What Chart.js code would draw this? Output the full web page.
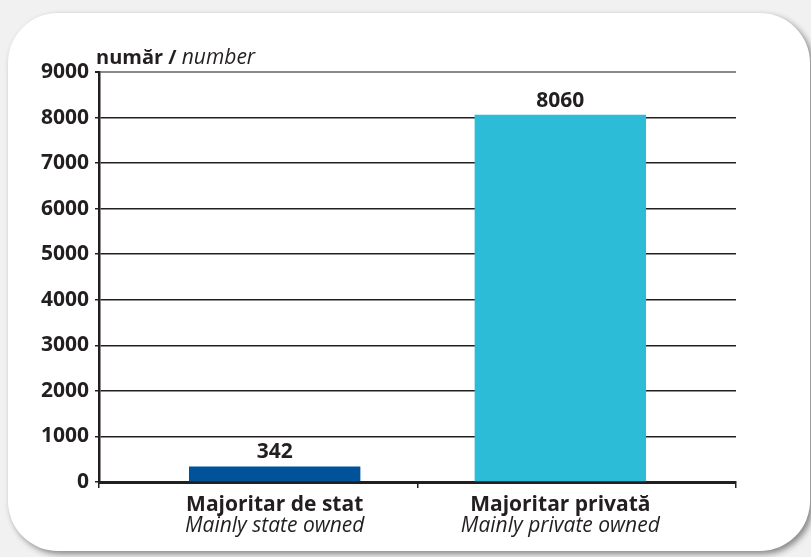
<!DOCTYPE html>
<html>
<head>
<meta charset="utf-8">
<script src="https://cdn.jsdelivr.net/npm/chart.js@4.4.1/dist/chart.umd.min.js"></script>
<style>
  html, body { margin: 0; padding: 0; }
  body { width: 811px; height: 557px; background: #f1f1f1; position: relative; overflow: hidden; }
  #card {
    position: absolute; left: 8px; top: 13px; width: 802px; height: 538px;
    background: #fff; border-radius: 50px;
    box-shadow: 3px 3px 6px rgba(0, 0, 0, 0.45);
  }
  #chart { position: absolute; left: 0; top: 0; }
</style>
</head>
<body>
<div id="card"></div>
<canvas id="chart" width="811" height="557"></canvas>
<script>
// categories (bold Romanian / italic English)
const labelsRo = ['Majoritar de stat', 'Majoritar privată'];
const labelsEn = ['Mainly state owned', 'Mainly private owned'];
const values = [342, 8060];
const barColors = ['#00529b', '#2cbcd8'];
const yTicks = [0, 1000, 2000, 3000, 4000, 5000, 6000, 7000, 8000, 9000];

const INK = '#231f20';
const FONT = "'Open Sans', sans-serif";

// bars sit at category index 0 and 1, the axis runs a bit wider on both sides
const xMin = -0.615;
const xMax = 1.615;

const textPlugin = {
  id: 'textPlugin',
  afterDraw(chart) {
    const ctx = chart.ctx;
    const x = chart.scales.x;
    const y = chart.scales.y;
    const meta = chart.getDatasetMeta(0);
    ctx.save();
    ctx.fillStyle = INK;
    ctx.textAlign = 'center';
    ctx.textBaseline = 'alphabetic';

    // values above bars
    meta.data.forEach((bar, i) => {
      ctx.font = 'bold 21px ' + FONT;
      ctx.fillText(String(values[i]), bar.x, bar.y - 8);
    });

    // two-line category labels
    labelsRo.forEach((lbl, i) => {
      const cx = x.getPixelForValue(i);
      ctx.font = 'bold 21px ' + FONT;
      ctx.fillText(lbl, cx, y.bottom + 29);
      ctx.font = 'italic 21px ' + FONT;
      ctx.fillText(labelsEn[i], cx, y.bottom + 50);
    });

    // "număr / number"
    ctx.textAlign = 'left';
    ctx.font = 'bold 20px ' + FONT;
    const part1 = 'număr / ';
    const tx = y.right - 3;
    ctx.fillText(part1, tx, y.top - 8);
    const w = ctx.measureText(part1).width;
    ctx.font = 'italic 21px ' + FONT;
    ctx.fillText('number', tx + w, y.top - 8);
    ctx.restore();
  }
};

new Chart(document.getElementById('chart'), {
  type: 'bar',
  data: {
    datasets: [{
      data: values.map((v, i) => ({ x: i, y: v })),
      backgroundColor: barColors,
      borderWidth: 0,
      barPercentage: 0.6,
      categoryPercentage: 1
    }]
  },
  options: {
    responsive: false,
    animation: false,
    layout: { padding: { left: 20, right: 75, top: 72, bottom: 0 } },
    plugins: { legend: { display: false }, tooltip: { enabled: false } },
    scales: {
      x: {
        type: 'linear',
        min: xMin,
        max: xMax,
        offset: false,
        afterBuildTicks(scale) {
          scale.ticks = [{ value: xMin }, { value: 0.5 }, { value: xMax }];
        },
        grid: {
          offset: false,
          drawOnChartArea: false,
          drawTicks: true,
          tickLength: 6,
          color: INK,
          lineWidth: 1.5
        },
        border: { color: INK, width: 3 },
        ticks: { display: false },
        afterFit(scale) { scale.height = 75; }
      },
      y: {
        min: 0,
        max: 9000,
        afterBuildTicks(scale) { scale.ticks = yTicks.map(v => ({ value: v })); },
        grid: {
          color: ctx => (ctx.tick && ctx.tick.value === 9000 ? '#8a8a8a' : INK),
          lineWidth: ctx => (ctx.tick && ctx.tick.value === 9000 ? 2 : 1.5),
          tickLength: 4,
          tickColor: INK
        },
        border: { color: INK, width: 2.5 },
        ticks: {
          color: INK,
          font: { family: FONT, size: 21, weight: 'bold' },
          padding: 6,
          callback: v => String(v)
        },
        afterFit(scale) { scale.width = 79; }
      }
    }
  },
  plugins: [textPlugin]
});
</script>
</body>
</html>
